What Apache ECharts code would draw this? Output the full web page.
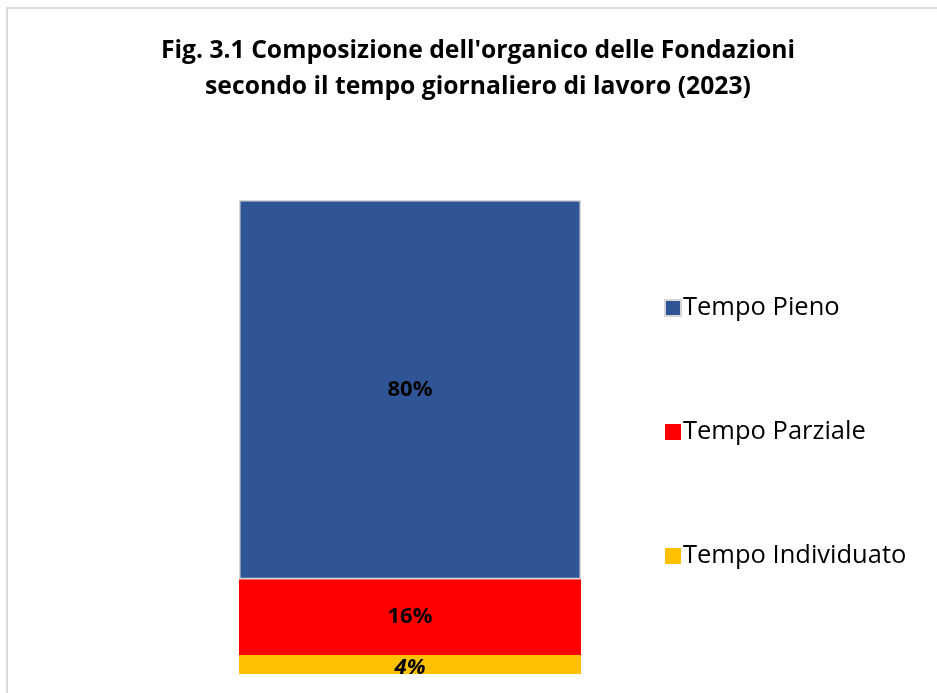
<!DOCTYPE html>
<html>
<head>
<meta charset="utf-8">
<script src="https://cdn.jsdelivr.net/npm/echarts@6/dist/echarts.min.js"></script>
<style>html,body{margin:0;padding:0;background:#fff;}#c{width:937px;height:693px;}</style>
</head>
<body>
<div id="c"></div>
<script>
const titleLines = ["Fig. 3.1 Composizione dell'organico delle Fondazioni", "secondo il tempo giornaliero di lavoro (2023)"];
const categories = ["2023"];
const seriesNames = ["Tempo Pieno", "Tempo Parziale", "Tempo Individuato"];
const tempoPieno = [80];
const tempoParziale = [16];
const tempoIndividuato = [4];
const colors = ["#2F5597", "#FF0000", "#FFC000"];

const chart = echarts.init(document.getElementById('c'));
const font = "'Open Sans', 'Noto Sans', sans-serif";
const seriesData = [tempoPieno, tempoParziale, tempoIndividuato];
const series = seriesNames.map((name, i) => ({
  name: name,
  type: 'bar',
  stack: 'tot',
  data: seriesData[i],
  barWidth: '100%',
  itemStyle: i === 0 ? {color: colors[i], borderColor: '#d6d6d6', borderWidth: 1.5} : {color: colors[i]},
  label: {
    show: true,
    position: 'inside',
    offset: i === 2 ? [0, 3] : [0, 0],
    formatter: p => p.value + '%',
    color: '#000',
    fontFamily: font,
    fontWeight: 'bold',
    fontStyle: i === 2 ? 'italic' : 'normal',
    fontSize: 22
  }
})).reverse();
chart.setOption({
  animation: false,
  backgroundColor: '#fff',
  title: {
    text: titleLines.join('\n'),
    left: 473,
    textAlign: 'center',
    top: 28,
    textStyle: {fontFamily: font, fontWeight: 'bold', fontSize: 24.7, lineHeight: 36, color: '#000'}
  },
  legend: {
    orient: 'vertical',
    left: 659,
    top: 290,
    itemWidth: 16,
    itemHeight: 16,
    itemGap: 98,
    icon: 'rect',
    textStyle: {fontFamily: font, fontSize: 25.5, lineHeight: 26, color: '#000', padding: [0,0,0,-3]},
    data: seriesNames
  },
  grid: {left: 239, right: 356, top: 200, bottom: 19},
  xAxis: {type: 'category', data: categories, show: false},
  yAxis: {type: 'value', min: 0, max: 100, show: false},
  series: series,
  graphic: [
    {type: 'rect', z: 100, shape: {x: 200, y: 675, width: 420, height: 20}, style: {fill: '#fff'}},
    {type: 'rect', z: 100, shape: {x: 7, y: 8, width: 960, height: 720}, style: {fill: 'none', stroke: '#d9d9d9', lineWidth: 2}}
  ]
});
</script>
</body>
</html>
